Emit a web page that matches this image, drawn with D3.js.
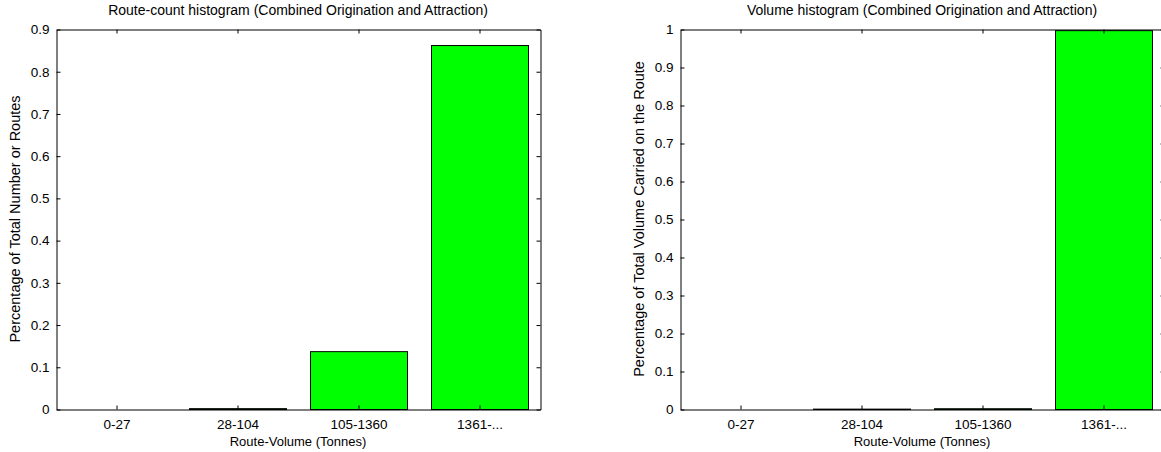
<!DOCTYPE html>
<html lang="en">
<head>
<meta charset="UTF-8">
<title>Route histograms</title>
<script src="https://cdn.jsdelivr.net/npm/d3@7"></script>
<style>
  body { margin: 0; background: #fff; }
  svg text { font-family: "Liberation Sans", Arial, Helvetica, sans-serif; fill: #000; }
</style>
</head>
<body>
<div id="graph-container"></div>
<script>
// route-volume bins, shared by both plots
const categories = ["0-27", "28-104", "105-1360", "1361-..."];

// share of routes in each bin
const routeShare = [0, 0.002, 0.137, 0.862];
const routeTicks = [0, 0.1, 0.2, 0.3, 0.4, 0.5, 0.6, 0.7, 0.8, 0.9];

// share of volume in each bin
const volumeShare = [0, 0.001, 0.002, 0.997];
const volumeTicks = [0, 0.1, 0.2, 0.3, 0.4, 0.5, 0.6, 0.7, 0.8, 0.9, 1];

const w = 1161, h = 452;
const svg = d3.select("#graph-container")
  .append("svg")
  .attr("width", w)
  .attr("height", h);

function histogram(left, values, yMax, yTicks, title, yLabel) {
  const top = 29, pw = 484, ph = 380;
  const g = svg.append("g").attr("transform", "translate(" + (left + 0.5) + "," + (top + 0.5) + ")");

  const x = d3.scaleBand().domain(categories).range([0, pw]).paddingInner(0.2).paddingOuter(0.1);
  const y = d3.scaleLinear().domain([0, yMax]).range([ph, 0]);

  g.selectAll("rect.bar")
    .data(values)
    .enter()
    .append("rect")
    .attr("class", "bar")
    .attr("x", (d, i) => Math.round(x(categories[i])))
    .attr("y", d => y(d))
    .attr("width", Math.round(x.bandwidth()))
    .attr("height", d => ph - y(d))
    .style("fill", "#00ff00")
    .style("stroke", "#000")
    .style("stroke-width", 1);

  const tick = 4;
  g.append("g").attr("transform", "translate(0," + ph + ")")
    .call(d3.axisBottom(x).tickSizeInner(-tick).tickSizeOuter(0).tickPadding(10));
  g.append("g")
    .call(d3.axisTop(x).tickSizeInner(-tick).tickSizeOuter(0).tickFormat(""));
  g.append("g")
    .call(d3.axisLeft(y).tickValues(yTicks).tickSizeInner(-tick).tickSizeOuter(0).tickPadding(7).tickFormat(d3.format("~g")));
  g.append("g").attr("transform", "translate(" + pw + ",0)")
    .call(d3.axisRight(y).tickValues(yTicks).tickSizeInner(-tick).tickSizeOuter(0).tickFormat(""));

  g.selectAll(".domain").style("stroke", "#000");
  g.selectAll(".tick line").style("stroke", "#000");
  g.selectAll(".tick text").style("font-size", "13.5px");

  svg.append("text")
    .attr("x", left + pw / 2)
    .attr("y", 15)
    .attr("text-anchor", "middle")
    .style("font-size", "14px")
    .text(title);

  svg.append("text")
    .attr("x", left + pw / 2)
    .attr("y", 446)
    .attr("text-anchor", "middle")
    .style("font-size", "13px")
    .text("Route-Volume (Tonnes)");

  svg.append("text")
    .attr("transform", "translate(" + (left - 36) + "," + (top + ph / 2) + ") rotate(-90)")
    .attr("text-anchor", "middle")
    .style("font-size", "14.5px")
    .text(yLabel);
}

histogram(56, routeShare, 0.9, routeTicks,
  "Route-count histogram (Combined Origination and Attraction)",
  "Percentage of Total Number or Routes");

histogram(680, volumeShare, 1, volumeTicks,
  "Volume histogram (Combined Origination and Attraction)",
  "Percentage of Total Volume Carried on the Route");
</script>
</body>
</html>
